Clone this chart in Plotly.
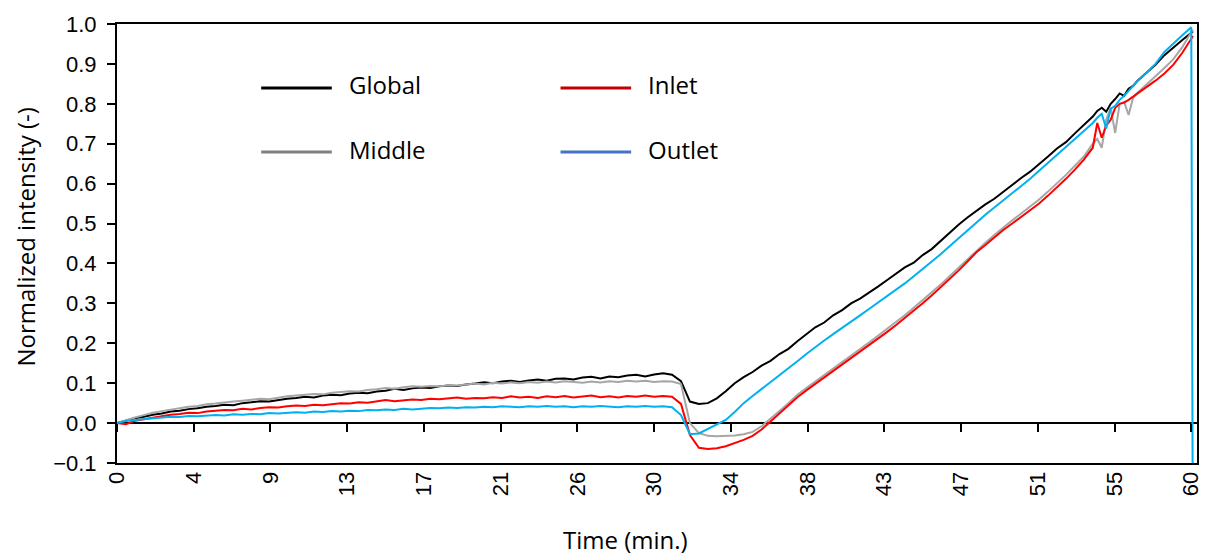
import plotly.graph_objects as go

# ---------------- data ----------------
time_min = [
    0.0, 0.5, 1.0, 1.5, 2.0, 2.5, 3.0, 3.5, 4.0, 4.5,
    5.0, 5.5, 6.0, 6.5, 7.0, 7.5, 8.0, 8.5, 9.0, 9.5,
    10.0, 10.5, 11.0, 11.5, 12.0, 12.5, 13.0, 13.5, 14.0, 14.5,
    15.0, 15.5, 16.0, 16.5, 17.0, 17.5, 18.0, 18.5, 19.0, 19.5,
    20.0, 20.5, 21.0, 21.5, 22.0, 22.5, 23.0, 23.5, 24.0, 24.5,
    25.0, 25.5, 26.0, 26.5, 27.0, 27.5, 28.0, 28.5, 29.0, 29.5,
    30.0, 30.5, 31.0, 31.5, 32.0, 32.5, 33.0, 33.5, 34.0, 34.5,
    35.0, 35.5, 36.0, 36.5, 37.0, 37.5, 38.0, 38.5, 39.0, 39.5,
    40.0, 40.5, 41.0, 41.5, 42.0, 42.5, 43.0, 43.5, 44.0, 44.5,
    45.0, 45.5, 46.0, 46.5, 47.0, 47.5, 48.0, 48.5, 49.0, 49.5,
    50.0, 50.5, 51.0, 51.5, 52.0, 52.5, 53.0, 53.5, 54.0, 54.5,
    54.75, 55.0, 55.25, 55.5, 55.75, 56.0, 56.25, 56.5, 56.75, 57.0,
    57.5, 58.0, 58.5, 59.0, 59.5, 60.0,
    60.1,
]

global_vals = [
    0.000, 0.006, 0.012, 0.016, 0.021, 0.024, 0.029, 0.031, 0.035, 0.037,
    0.041, 0.043, 0.046, 0.045, 0.050, 0.052, 0.055, 0.054, 0.058, 0.061,
    0.063, 0.066, 0.064, 0.069, 0.071, 0.070, 0.074, 0.076, 0.075, 0.079,
    0.081, 0.086, 0.083, 0.087, 0.089, 0.088, 0.092, 0.094, 0.093, 0.097,
    0.099, 0.102, 0.100, 0.104, 0.106, 0.103, 0.107, 0.109, 0.106, 0.111,
    0.112, 0.109, 0.114, 0.116, 0.112, 0.117, 0.115, 0.119, 0.121, 0.117,
    0.122, 0.125, 0.121, 0.105, 0.054, 0.048, 0.050, 0.062, 0.080, 0.100,
    0.115, 0.128, 0.144, 0.156, 0.173, 0.186, 0.205, 0.222, 0.240, 0.252,
    0.270, 0.283, 0.300, 0.312, 0.326, 0.342, 0.358, 0.375, 0.390, 0.402,
    0.421, 0.436, 0.457, 0.478, 0.497, 0.515, 0.532, 0.548, 0.562, 0.580,
    0.598, 0.614, 0.630, 0.648, 0.668, 0.688, 0.704, 0.726, 0.748, 0.768,
    0.782, 0.790, 0.780, 0.800, 0.812, 0.826, 0.820, 0.838, 0.845, 0.858,
    0.878, 0.898, 0.922, 0.942, 0.960, 0.978,
    0.982,
]

inlet_vals = [
    0.000, -0.003, 0.006, 0.010, 0.014, 0.017, 0.021, 0.023, 0.026, 0.025,
    0.029, 0.031, 0.033, 0.032, 0.036, 0.034, 0.038, 0.040, 0.039, 0.042,
    0.044, 0.043, 0.046, 0.045, 0.048, 0.050, 0.049, 0.052, 0.051, 0.054,
    0.058, 0.055, 0.057, 0.059, 0.058, 0.061, 0.060, 0.062, 0.064, 0.061,
    0.063, 0.062, 0.065, 0.063, 0.067, 0.064, 0.066, 0.063, 0.067, 0.065,
    0.068, 0.064, 0.066, 0.069, 0.065, 0.067, 0.064, 0.068, 0.066, 0.069,
    0.066, 0.068, 0.066, 0.048, -0.030, -0.062, -0.065, -0.063, -0.058, -0.050,
    -0.042, -0.032, -0.016, 0.004, 0.024, 0.045, 0.065, 0.082, 0.098, 0.114,
    0.130, 0.146, 0.162, 0.178, 0.195, 0.211, 0.228, 0.245, 0.263, 0.282,
    0.300, 0.320, 0.340, 0.362, 0.382, 0.405, 0.428, 0.446, 0.465, 0.484,
    0.500, 0.516, 0.533, 0.550, 0.570, 0.590, 0.612, 0.635, 0.660, 0.690,
    0.752, 0.715, 0.745, 0.760, 0.790, 0.800, 0.803, 0.810, 0.818, 0.825,
    0.842, 0.858, 0.876, 0.898, 0.928, 0.966,
    0.970,
]

middle_vals = [
    0.000, 0.008, 0.014, 0.020, 0.026, 0.030, 0.034, 0.037, 0.041, 0.043,
    0.047, 0.049, 0.052, 0.054, 0.056, 0.059, 0.061, 0.060, 0.064, 0.067,
    0.069, 0.071, 0.073, 0.072, 0.076, 0.078, 0.080, 0.079, 0.083, 0.085,
    0.088, 0.086, 0.090, 0.092, 0.091, 0.093, 0.092, 0.095, 0.094, 0.097,
    0.099, 0.097, 0.101, 0.099, 0.102, 0.100, 0.103, 0.101, 0.104, 0.102,
    0.105, 0.103, 0.101, 0.104, 0.102, 0.105, 0.103, 0.106, 0.104, 0.106,
    0.103, 0.105, 0.104, 0.098, 0.000, -0.025, -0.032, -0.033, -0.032, -0.031,
    -0.028, -0.022, -0.008, 0.010, 0.030, 0.050, 0.071, 0.088, 0.104, 0.121,
    0.137, 0.153, 0.170, 0.186, 0.202, 0.219, 0.236, 0.252, 0.270, 0.289,
    0.308, 0.327, 0.347, 0.368, 0.389, 0.411, 0.433, 0.452, 0.471, 0.490,
    0.508, 0.525, 0.542, 0.560, 0.580, 0.600, 0.622, 0.645, 0.668, 0.700,
    0.712, 0.690, 0.760, 0.790, 0.727, 0.800, 0.805, 0.772, 0.815, 0.828,
    0.848, 0.868, 0.890, 0.912, 0.942, 0.980,
    0.985,
]

outlet_vals = [
    0.000, 0.005, 0.008, 0.010, 0.012, 0.014, 0.016, 0.015, 0.018, 0.017,
    0.019, 0.020, 0.019, 0.022, 0.021, 0.023, 0.022, 0.025, 0.024, 0.026,
    0.027, 0.026, 0.029, 0.028, 0.030, 0.029, 0.031, 0.030, 0.033, 0.032,
    0.034, 0.033, 0.036, 0.034, 0.036, 0.038, 0.037, 0.039, 0.038, 0.040,
    0.039, 0.041, 0.040, 0.042, 0.041, 0.040, 0.042, 0.041, 0.043, 0.041,
    0.042, 0.040, 0.042, 0.041, 0.043, 0.041, 0.040, 0.042, 0.041, 0.043,
    0.041, 0.042, 0.040, 0.020, -0.028, -0.026, -0.015, -0.005, 0.008, 0.028,
    0.050, 0.068, 0.085, 0.102, 0.120, 0.138, 0.155, 0.173, 0.191, 0.207,
    0.223, 0.238, 0.254, 0.270, 0.286, 0.302, 0.318, 0.333, 0.350, 0.368,
    0.386, 0.404, 0.423, 0.443, 0.463, 0.484, 0.503, 0.522, 0.540, 0.558,
    0.575, 0.593, 0.612, 0.632, 0.652, 0.672, 0.692, 0.712, 0.732, 0.752,
    0.765, 0.775, 0.738, 0.788, 0.795, 0.810, 0.820, 0.832, 0.845, 0.857,
    0.878, 0.900, 0.930, 0.952, 0.972, 0.992,
    -0.500,
]

tick_labels = ["0", "4", "9", "13", "17", "21", "26", "30", "34", "38",
               "43", "47", "51", "55", "60"]
y_ticks = [-0.1, 0.0, 0.1, 0.2, 0.3, 0.4, 0.5, 0.6, 0.7, 0.8, 0.9, 1.0]

series_names = ["Global", "Middle", "Inlet", "Outlet"]
series_vals = [global_vals, middle_vals, inlet_vals, outlet_vals]
line_colors = ["#000000", "#A6A6A6", "#FF0000", "#00B0F0"]
legend_colors = {"Global": "#000000", "Inlet": "#C00000",
                 "Middle": "#808080", "Outlet": "#4472C4"}

# ---------------- layout geometry ----------------
W, H = 1208, 558
L, R, T, B = 117, 5, 24, 95
X_MAX = 60.32
tick_pos = [60.0 * k / (len(tick_labels) - 1) for k in range(len(tick_labels))]


def px_x(px):
    return (px - L) / (W - L - R)


def px_y(py):
    return (H - B - py) / (H - T - B)


fig = go.Figure()
for name, vals, col in zip(series_names, series_vals, line_colors):
    fig.add_trace(go.Scatter(
        x=time_min, y=vals, mode="lines", name=name,
        line=dict(color=col, width=2), showlegend=False,
    ))

# invisible trace to carry the tick-mark axis placed on the zero line
fig.add_trace(go.Scatter(x=[time_min[0]], y=[None], xaxis="x2", yaxis="y",
                         showlegend=False, hoverinfo="skip"))

tick_font = dict(family="Liberation Sans, Arial, sans-serif", size=22, color="#000000")
text_font = dict(family="Open Sans, sans-serif", size=24, color="#000000")

fig.update_layout(
    width=W, height=H,
    margin=dict(l=L, r=R, t=T, b=B, pad=0),
    paper_bgcolor="white", plot_bgcolor="white",
    showlegend=False,
    xaxis=dict(
        range=[0, X_MAX], tickmode="array", tickvals=tick_pos, ticktext=tick_labels,
        tickangle=-90, ticks="", tickfont=tick_font, ticklabelstandoff=-2,
        showline=True, linecolor="#000000", linewidth=2, mirror=True,
        showgrid=False, zeroline=False,
    ),
    xaxis2=dict(
        overlaying="x", matches="x", anchor="free", position=0.1 / 1.1,
        range=[0, X_MAX], tickmode="array", tickvals=tick_pos,
        ticks="outside", ticklen=8, tickwidth=2, tickcolor="#000000",
        showticklabels=False, showline=False, showgrid=False, zeroline=False,
    ),
    yaxis=dict(
        range=[-0.1, 1.0], tickmode="array", tickvals=y_ticks,
        tickformat=".1f", ticks="outside", ticklen=8, tickwidth=2,
        tickcolor="#000000", tickfont=tick_font, ticklabelstandoff=6,
        showline=True, linecolor="#000000", linewidth=2, mirror=True,
        showgrid=False, zeroline=True, zerolinecolor="#000000", zerolinewidth=2,
    ),
)

annotations = [
    dict(text="Time (min.)", x=px_x(628), y=px_y(539), xref="paper", yref="paper",
         xanchor="center", yanchor="middle", showarrow=False, font=text_font),
    dict(text="Normalized intensity (-)", x=px_x(25), y=px_y(237), xref="paper",
         yref="paper", xanchor="center", yanchor="middle", textangle=-90,
         showarrow=False, font=text_font),
]
shapes = []
legend_layout = [("Global", 262, 88), ("Inlet", 563, 88),
                 ("Middle", 262, 152), ("Outlet", 563, 152)]
for name, lx, ly in legend_layout:
    shapes.append(dict(type="line", xref="paper", yref="paper",
                       x0=px_x(lx), x1=px_x(lx + 71), y0=px_y(ly), y1=px_y(ly),
                       line=dict(color=legend_colors[name], width=3)))
    annotations.append(dict(text=name, x=px_x(lx + 86), y=px_y(ly - 3),
                            xref="paper", yref="paper", xanchor="left",
                            yanchor="middle", showarrow=False, font=text_font))

fig.update_layout(annotations=annotations, shapes=shapes)
fig.write_html(
    "out.html",
    config={"displayModeBar": False},
    post_script="document.body.style.margin='0';document.body.style.padding='0';",
)
